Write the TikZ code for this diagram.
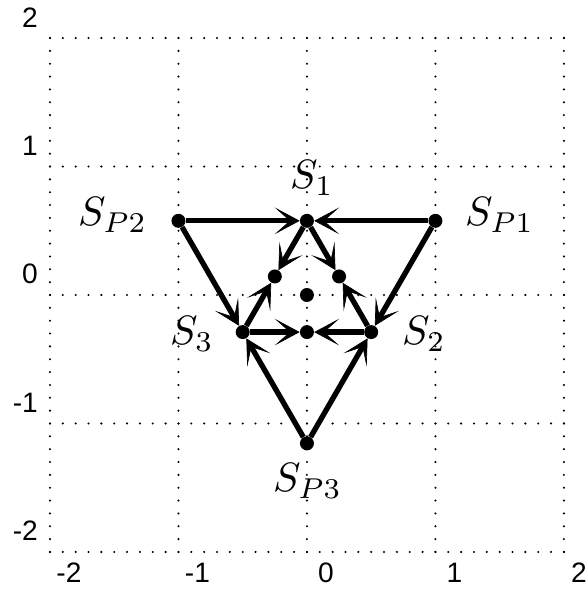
\documentclass[tikz,border=0pt]{standalone}
\usepackage{fontspec}
\usepackage{graphicx}
\newfontfamily\axisfont{Liberation Sans}
\usetikzlibrary{arrows.meta}
\newcommand{\biglab}[1]{\scalebox{3.5}{$#1$}}
\begin{document}
\begin{tikzpicture}[x=3.855cm,y=3.855cm,
  gridline/.style={line width=0.07cm, line cap=round, dash pattern=on 0pt off 0.3855cm},
  edge/.style={line width=0.16cm},
  arr/.style={edge,-{Stealth[length=0.75cm,width=0.8cm,inset=0.45cm,line width=0.02cm]}},
  dot/.style={circle,fill=black,inner sep=0pt,minimum size=0.42cm},
  ticklabel/.style={font=\axisfont\fontsize{24}{28}\selectfont, inner sep=0pt},
  lab/.style={inner sep=0pt, anchor=base west}
]
\useasboundingbox (-2.389,-2.296) rectangle (2.179,2.296);
% grid
\foreach \k in {-2,...,2} {
  \draw[gridline] (\k,-2) -- (\k,2);
  \draw[gridline] (-2,\k) -- (2,\k);
}
% tick labels
\foreach \k/\t in {-2/-2,-1/-1,0/0,1/1,2/2} {
  \node[ticklabel, anchor=base east] (yl\k) at (-2.093,\k+0.0856) {\t};
}
\foreach \k/\t in {-2/-2,-1/-1,0/0,1/1} {
  \node[ticklabel, anchor=base] (xl\k) at (\k+0.148,-2.241) {\t};
}
\node[ticklabel, anchor=base east] (xl2) at (2.179,-2.241) {2};
% points
\node[dot] (SP1) at (1,0.57735) {};
\node[dot] (SP2) at (-1,0.57735) {};
\node[dot] (SP3) at (0,-1.1547) {};
\node[dot] (S1) at (0,0.57735) {};
\node[dot] (S2) at (0.5,-0.288675) {};
\node[dot] (S3) at (-0.5,-0.288675) {};
\node[dot] (M12) at (0.25,0.144338) {};
\node[dot] (M13) at (-0.25,0.144338) {};
\node[dot] (M23) at (0,-0.288675) {};
\node[dot] (O) at (0,0) {};
% labels
\node[lab] (lSP2) at (-1.782,0.537) {\biglab{S_{P2}}};
\node[lab] (lSP1) at (1.230,0.537) {\biglab{S_{P1}}};
\node[lab] (lS1) at (-0.132,0.825) {\biglab{S_1}};
\node[lab] (lS3) at (-1.066,-0.389) {\biglab{S_3}};
\node[lab] (lS2) at (0.739,-0.389) {\biglab{S_2}};
\node[lab] (lSP3) at (-0.265,-1.533) {\biglab{S_{P3}}};
% edges
\draw[arr] (SP2) -- (S1);
\draw[arr] (SP1) -- (S1);
\draw[arr] (SP2) -- (S3);
\draw[arr] (SP3) -- (S3);
\draw[arr] (SP1) -- (S2);
\draw[arr] (SP3) -- (S2);
\draw[arr] (S1) -- (M13);
\draw[arr] (S3) -- (M13);
\draw[arr] (S1) -- (M12);
\draw[arr] (S2) -- (M12);
\draw[arr] (S3) -- (M23);
\draw[arr] (S2) -- (M23);
\end{tikzpicture}
\end{document}
